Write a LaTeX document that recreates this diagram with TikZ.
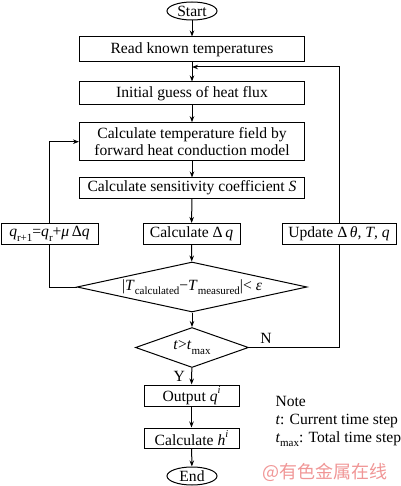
\documentclass[tikz,border=0pt]{standalone}
\usepackage{fontspec}
\setmainfont{Liberation Serif}
\newfontfamily\cjkfont{Noto Sans CJK SC}
\usetikzlibrary{arrows.meta,shapes.geometric}
\definecolor{wmpink}{RGB}{240,150,150}
\newcommand\sbs[1]{\raisebox{-0.28em}{\fontsize{11}{11}\selectfont #1}}
\newcommand\sps[1]{\raisebox{0.55em}{\fontsize{10.5}{11}\selectfont #1}}
\begin{document}
\begin{tikzpicture}[x=1pt,y=-1pt, line width=1pt,
  font=\fontsize{15.6}{17.5}\selectfont,
  box/.style={draw, rectangle, inner sep=0pt, align=center},
  term/.style={draw, ellipse, inner sep=0pt, minimum width=50pt, minimum height=18pt},
  dec/.style={draw, diamond, inner sep=0pt},
  arr/.style={-{Stealth[length=6pt,width=4.5pt]}},
  lbl/.style={inner sep=0pt, anchor=base west}]
\useasboundingbox (0,0) rectangle (400,486);
\node[term] (start) at (192,11) {Start};
\node[box, minimum width=225pt, minimum height=25pt] (read) at (192,49.5) {Read known temperatures};
\node[box, minimum width=225pt, minimum height=23pt] (init) at (192,93.5) {Initial guess of heat flux};
\node[box, minimum width=225pt, minimum height=38pt] (calc) at (192,141.7) {Calculate temperature field by\\forward heat conduction model};
\node[box, minimum width=225pt, minimum height=20pt] (sens) at (192,188) {Calculate sensitivity coefficient \textit{S}};
\node[box, minimum width=97pt, minimum height=21pt] (qup) at (49.5,234) {\textit{q}\sbs{r+1}=\textit{q}\sbs{r}+\textit{μ}\,Δ\textit{q}};
\node[box, minimum width=97pt, minimum height=21pt] (dq) at (191.5,234) {Calculate Δ\,\textit{q}};
\node[box, minimum width=114pt, minimum height=21pt] (upd) at (339,234) {Update Δ\,\textit{θ}, \textit{T}, \textit{q}};
\node[dec, aspect=4.6, minimum width=230pt, minimum height=50pt] (d1) at (192,287) {|\textit{T}\sbs{calculated}−\textit{T}\sbs{measured}|< \textit{ε}};
\node[dec, aspect=2.8, minimum width=113pt, minimum height=40pt] (d2) at (192,347.5) {\textit{t}>\textit{t}\sbs{max}};
\node[box, minimum width=95pt, minimum height=21pt] (out) at (191.5,395.5) {Output \textit{q}\sps{\textit{i}}};
\node[box, minimum width=95pt, minimum height=20pt] (ch) at (191.5,438) {Calculate \textit{h}\sps{\textit{i}}};
\node[term] (end) at (192,476) {End};
\coordinate (j) at (192,67);
\draw[arr] (start) -- (read);
\draw[arr] (read) -- (init);
\draw[arr] (init) -- (calc);
\draw[arr] (calc) -- (sens);
\draw[arr] (sens) -- (dq);
\draw[arr] (dq) -- (d1);
\draw[arr] (d1) -- (d2);
\draw[arr] (d2) -- node[pos=0.5, left=3pt] (ylab) {Y} (out);
\draw[arr] (out) -- (ch);
\draw[arr] (ch) -- (end);
\draw (d1.west) -| (qup.south);
\draw[arr] (qup.north) |- (calc.west);
\draw (d2.east) -- node[pos=0.19, above=0pt] (nlab) {N} (d2.east -| upd.south) -- (upd.south);
\draw[arr] (upd.north) |- (j);
\node[lbl] (note1) at (275,406) {Note};
\node[lbl] (note2) at (275,424) {\textit{t}: Current time step};
\node[lbl] (note3) at (275,442) {\textit{t}\sbs{max}: Total time step};
\node[inner sep=0pt, anchor=west, text=wmpink, font=\cjkfont\fontsize{18}{18}\selectfont] (wm) at (262,472) {@有色金属在线};
\end{tikzpicture}
\end{document}
